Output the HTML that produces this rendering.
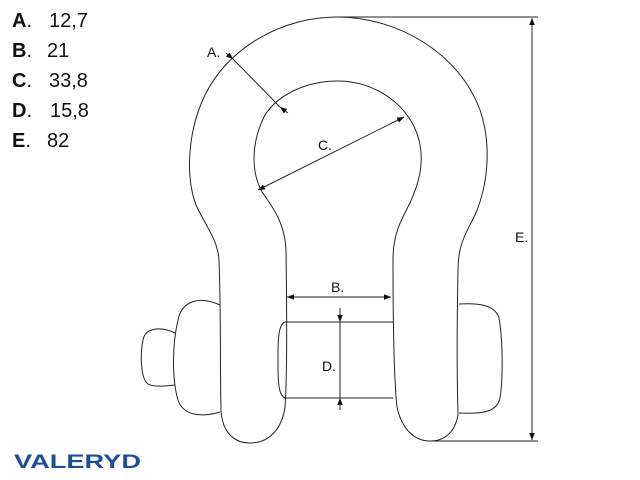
<!DOCTYPE html>
<html><head><meta charset="utf-8"><style>
html,body{margin:0;padding:0;background:#fff;width:640px;height:480px;overflow:hidden}
svg{display:block}
</style></head><body>
<svg width="640" height="480" viewBox="0 0 640 480" xmlns="http://www.w3.org/2000/svg" font-family="Liberation Sans, sans-serif">
<defs>
<marker id="ar" viewBox="0 0 10 10" refX="10" refY="5" markerWidth="7" markerHeight="7" orient="auto-start-reverse"><path d="M0,1 L10,5 L0,9 z" fill="#111"/></marker>
</defs>
<g fill="none" stroke="#222" stroke-width="1">
<path d="M220,305 C200,296 182,300 178,320 C172,345 172,380 178,400 C183,415 200,418 220,412"/>
<path d="M175,333 C160,326 145,328 143,340 C140,355 141,375 146,382 C150,388 165,386 175,385"/>
<path d="M459,304 C480,303 495,305 499,318 C503,340 503,380 500,398 C497,413 480,414 459,413"/>
<path d="M285,322 L393,322 M285,398 L393,398 M285,322 C278,325 278,340 278,360 C278,380 278,395 285,398"/>
<path d="M250,443 C232,443 222,430 221,410 C220,370 221,310 219,260 C218,240 205,225 196,205 C185,175 188,130 205,95 C230,45 285,17 337,17 C400,17 460,55 480,110 C492,145 488,185 475,215 C465,235 458,245 458,270 C457,320 457,380 458,415 C455,432 445,441 430,441"/>
<path d="M250,443 C270,443 282,428 285,407 C287,380 287,320 286,250 C285,225 275,210 262,192 C250,170 252,140 265,115 C280,92 310,81 338,81 C375,81 410,105 419,140 C425,165 418,185 410,203 C400,222 393,235 393,260 C393,320 394,380 397,407 C402,430 415,441 430,441"/>
</g>
<g stroke="#222" stroke-width="1" fill="none">
<line x1="335" y1="17" x2="538" y2="17"/>
<line x1="430" y1="441" x2="538" y2="441"/>
<line x1="532" y1="18" x2="532" y2="440" marker-start="url(#ar)" marker-end="url(#ar)"/>
<line x1="287" y1="297" x2="391" y2="297" marker-start="url(#ar)" marker-end="url(#ar)"/>
<line x1="340" y1="308" x2="340" y2="322" marker-end="url(#ar)"/>
<line x1="340" y1="322" x2="340" y2="398"/>
<line x1="340" y1="410" x2="340" y2="398" marker-end="url(#ar)"/>
<line x1="226" y1="53" x2="233" y2="59" marker-end="url(#ar)"/>
<line x1="233" y1="59" x2="280" y2="107"/>
<line x1="288" y1="113" x2="280" y2="107" marker-end="url(#ar)"/>
<line x1="258" y1="190" x2="404" y2="117" marker-start="url(#ar)" marker-end="url(#ar)"/>
</g>
<g font-size="14" fill="#111">
<text x="207" y="57">A.</text>
<text x="318" y="150">C.</text>
<text x="331" y="292">B.</text>
<text x="322" y="371">D.</text>
<text x="515" y="242">E.</text>
</g>
<g font-size="20" fill="#111">
<text x="12" y="27"><tspan font-weight="bold">A</tspan>.<tspan x="49">12,7</tspan></text>
<text x="12" y="57"><tspan font-weight="bold">B</tspan>.<tspan x="47">21</tspan></text>
<text x="12" y="87"><tspan font-weight="bold">C</tspan>.<tspan x="49">33,8</tspan></text>
<text x="12" y="117"><tspan font-weight="bold">D</tspan>.<tspan x="50">15,8</tspan></text>
<text x="12" y="147"><tspan font-weight="bold">E</tspan>.<tspan x="47">82</tspan></text>
</g>
<text x="14" y="468" font-size="19" font-weight="900" fill="#1a4f96" textLength="127" lengthAdjust="spacingAndGlyphs">VALERYD</text>
</svg>
</body></html>
